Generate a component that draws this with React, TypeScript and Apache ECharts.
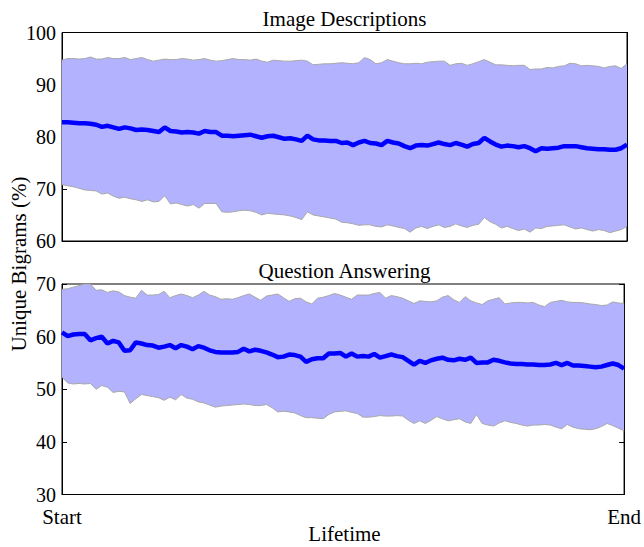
import React, { useEffect, useRef } from "react";
import * as echarts from "echarts";

const titles = ["Image Descriptions", "Question Answering"];
const xEndLabels = ["Start", "End"];
const yTicksTop = [60, 70, 80, 90, 100];
const yTicksBottom = [30, 40, 50, 60, 70];

const imgMean = [
  82.8, 82.8, 82.7, 82.6, 82.6, 82.5, 82.3, 81.9, 82.1, 81.8,
  81.5, 81.8, 81.6, 81.3, 81.4, 81.3, 81.1, 80.9, 81.8, 81.1,
  81.0, 80.8, 80.9, 80.8, 80.6, 81.1, 80.9, 80.9, 80.2, 80.2,
  80.1, 80.2, 80.3, 80.4, 80.1, 79.8, 80.1, 80.2, 79.9, 79.6,
  79.7, 79.5, 79.2, 80.2, 79.5, 79.3, 79.3, 79.2, 79.2, 78.8,
  78.9, 78.4, 78.9, 79.2, 78.8, 78.7, 78.4, 79.2, 78.9, 78.7,
  78.2, 77.8, 78.3, 78.4, 78.3, 78.6, 78.9, 78.6, 78.4, 78.8,
  78.5, 78.1, 78.6, 78.8, 79.8, 79.1, 78.5, 78.1, 78.3, 78.2,
  78.0, 78.2, 77.8, 77.2, 77.8, 77.7, 77.8, 77.9, 78.2, 78.2,
  78.2, 78.0, 77.8, 77.7, 77.6, 77.6, 77.5, 77.5, 77.8, 78.5,
];
const imgUpper = [
  94.7, 95.0, 95.0, 94.9, 95.0, 95.3, 94.9, 94.9, 95.2, 95.0,
  95.0, 95.2, 94.8, 95.0, 95.2, 94.8, 94.5, 94.7, 94.9, 94.8,
  94.8, 95.0, 94.9, 94.7, 94.8, 95.0, 94.7, 94.5, 94.6, 94.8,
  95.0, 94.8, 94.8, 94.7, 94.9, 94.5, 94.3, 94.7, 94.6, 94.5,
  94.5, 94.6, 94.7, 94.5, 93.8, 93.9, 94.0, 94.0, 94.1, 94.2,
  94.1, 94.0, 94.2, 95.2, 94.8, 94.0, 94.2, 94.8, 94.5, 94.2,
  94.0, 94.0, 94.1, 94.0, 94.3, 94.4, 94.5, 94.5, 93.7, 94.0,
  94.1, 93.7, 94.0, 94.4, 94.8, 94.3, 93.8, 93.8, 93.7, 93.6,
  93.7, 93.7, 92.9, 93.0, 93.0, 93.3, 93.2, 93.5, 93.6, 94.1,
  94.0, 93.6, 93.7, 93.6, 93.5, 93.2, 93.5, 93.6, 93.1, 94.0,
];
const imgLower = [
  70.8, 70.6, 70.4, 70.1, 69.8, 69.7, 69.6, 69.0, 69.2, 68.6,
  68.2, 68.4, 68.1, 67.9, 67.6, 67.9, 67.5, 67.6, 68.7, 67.1,
  67.3, 67.0, 66.7, 67.0, 66.3, 67.2, 67.2, 67.2, 65.6, 65.5,
  65.6, 65.8, 65.9, 65.8, 65.5, 65.0, 65.3, 65.2, 65.1, 65.0,
  64.8, 64.5, 64.1, 65.6, 65.0, 64.8, 64.6, 64.4, 64.2, 63.6,
  63.5, 63.3, 63.0, 63.1, 63.1, 62.8, 62.7, 63.1, 62.9, 62.6,
  62.4, 61.7, 62.5, 62.8, 62.4, 62.8, 63.1, 62.6, 62.8, 63.3,
  62.9, 62.6, 63.0, 63.2, 64.5, 63.7, 63.2, 62.5, 62.8, 62.4,
  62.0, 62.3, 61.7, 62.5, 62.4, 62.8, 62.9, 63.0, 63.1, 62.7,
  62.3, 62.5, 62.2, 61.9, 62.2, 62.0, 61.6, 61.9, 62.2, 62.8,
];

const qaMean = [
  60.8, 60.1, 60.4, 60.5, 60.5, 59.3, 59.7, 60.0, 58.7, 59.2,
  58.9, 57.3, 57.4, 58.9, 58.7, 58.4, 58.3, 57.9, 58.1, 58.4,
  57.8, 58.4, 58.1, 57.6, 58.2, 57.9, 57.4, 57.1, 57.0, 57.0,
  57.0, 57.1, 57.7, 57.2, 57.5, 57.3, 57.0, 56.6, 56.1, 56.2,
  56.6, 56.5, 56.2, 55.2, 55.7, 55.9, 55.9, 56.8, 56.8, 56.9,
  56.2, 56.8, 56.2, 56.3, 56.2, 56.7, 56.0, 56.3, 56.6, 56.3,
  56.1, 55.4, 54.7, 55.4, 55.0, 55.5, 55.8, 56.0, 55.6, 55.5,
  55.8, 55.6, 56.0, 55.0, 55.1, 55.1, 55.6, 55.4, 55.1, 54.9,
  54.8, 54.8, 54.7, 54.7, 54.6, 54.6, 54.7, 55.0, 54.6, 55.0,
  54.5, 54.5, 54.4, 54.3, 54.2, 54.3, 54.6, 54.9, 54.6, 53.9,
];
const qaUpper = [
  69.0, 69.1, 69.4, 69.7, 70.0, 70.0, 68.8, 68.9, 68.4, 68.7,
  68.5, 67.8, 67.5, 67.3, 68.8, 67.9, 67.9, 68.0, 68.6, 67.4,
  67.8, 68.1, 67.8, 67.4, 67.9, 68.6, 67.9, 67.6, 67.1, 67.2,
  67.1, 67.4, 67.8, 68.1, 67.5, 66.9, 67.7, 67.9, 68.1, 67.4,
  66.7, 67.2, 67.3, 66.6, 66.2, 67.3, 67.5, 67.8, 68.2, 67.9,
  67.5, 67.1, 67.9, 67.9, 67.9, 68.2, 68.4, 67.3, 67.8, 67.6,
  67.3, 66.8, 66.3, 66.8, 66.7, 66.6, 66.8, 67.5, 67.8, 67.0,
  66.5, 67.6, 66.8, 66.4, 66.1, 66.8, 67.1, 67.4, 66.2, 66.4,
  66.5, 66.5, 66.4, 66.5, 66.0, 65.7, 66.5, 66.7, 66.9, 66.6,
  66.5, 66.5, 66.4, 66.2, 66.1, 65.9, 66.0, 66.6, 66.4, 66.3,
];
const qaLower = [
  52.3, 51.2, 51.0, 51.1, 51.0, 51.1, 50.0, 50.7, 50.4, 49.4,
  49.6, 49.5, 47.3, 48.2, 49.0, 48.8, 48.6, 48.4, 47.9, 48.5,
  48.0, 49.0, 48.3, 48.1, 47.6, 47.4, 47.0, 46.6, 46.8, 46.9,
  47.0, 47.1, 47.2, 47.1, 46.9, 46.9, 47.1, 46.5, 45.7, 45.8,
  45.7, 45.5, 45.0, 44.6, 44.6, 44.5, 44.4, 45.2, 45.7, 45.8,
  45.9, 45.6, 45.4, 44.7, 44.7, 44.8, 45.0, 44.9, 44.9, 45.0,
  44.9, 44.1, 43.5, 44.0, 43.5, 44.1, 44.8, 44.4, 44.0, 44.2,
  44.4, 43.8, 43.5, 45.2, 43.5, 43.2, 43.0, 43.6, 44.0, 43.7,
  43.5, 43.2, 43.0, 43.2, 43.2, 43.3, 43.2, 42.8, 42.5, 43.3,
  42.8, 42.5, 42.4, 42.3, 42.5, 42.9, 43.5, 43.1, 42.6, 42.1,
];

const N = imgMean.length;
const steps = imgMean.map((_, i) => String(i));

const FONT = "Liberation Serif";
const BAND = "#b2b2ff";
const EDGE = "#a8a8a8";
const MEAN = "#0000ff";

function bandSeries(lower: number[], upper: number[], mean: number[], idx: number, stackName: string) {
  return [
    {
      type: "line",
      xAxisIndex: idx,
      yAxisIndex: idx * 2,
      data: lower,
      stack: stackName,
      symbol: "none",
      lineStyle: { color: EDGE, width: 1 },
      z: 2,
    },
    {
      type: "line",
      xAxisIndex: idx,
      yAxisIndex: idx * 2,
      data: upper.map((u, i) => +(u - lower[i]).toFixed(2)),
      stack: stackName,
      symbol: "none",
      lineStyle: { color: EDGE, width: 1 },
      areaStyle: { color: BAND, opacity: 1 },
      z: 2,
    },
    {
      type: "line",
      xAxisIndex: idx,
      yAxisIndex: idx * 2,
      data: mean,
      symbol: "none",
      lineStyle: { color: MEAN, width: 4.5 },
      z: 3,
    },
  ];
}

function yAxes(gridIndex: number, ticks: number[]) {
  const min = ticks[0];
  const max = ticks[ticks.length - 1];
  const interval = ticks[1] - ticks[0];
  const base = {
    type: "value",
    gridIndex,
    min,
    max,
    interval,
    splitLine: { show: false },
    axisLine: { show: true, lineStyle: { color: "#000", width: 1 } },
    axisTick: { show: true, inside: true, length: 5, lineStyle: { color: "#000" } },
  };
  return [
    {
      ...base,
      position: "left",
      axisLabel: { show: true, color: "#000", fontFamily: FONT, fontSize: 20, margin: 6 },
    },
    {
      ...base,
      position: "right",
      axisLabel: { show: false },
    },
  ];
}

function xAxis(gridIndex: number, showLabels: boolean) {
  return {
    type: "category",
    gridIndex,
    data: steps,
    boundaryGap: false,
    axisLine: { show: true, lineStyle: { color: "#000", width: 1 } },
    axisTick: { show: false },
    splitLine: { show: false },
    axisLabel: {
      show: showLabels,
      interval: 0,
      color: "#000",
      fontFamily: FONT,
      fontSize: 21,
      margin: 12,
      formatter: (_v: string, i: number) => (i === 0 ? xEndLabels[0] : i === N - 1 ? xEndLabels[1] : ""),
    },
  };
}

function label(text: string, x: number, y: number, rotation = 0) {
  return {
    type: "text",
    x,
    y,
    rotation,
    style: {
      text,
      fontFamily: FONT,
      fontSize: 21,
      fill: "#000",
      textAlign: "center",
      textVerticalAlign: "middle",
    },
  };
}

export default function App() {
  const ref = useRef<HTMLDivElement>(null);
  useEffect(() => {
    if (!ref.current) return;
    const chart = echarts.init(ref.current, undefined, { renderer: "svg" });
    chart.setOption({
      animation: false,
      backgroundColor: "#fff",
      grid: [
        { left: 62, right: 17, top: 32.5, height: 208.5, show: true, borderColor: "#000", borderWidth: 1, backgroundColor: "transparent" },
        { left: 62, right: 17, top: 284, height: 210.5, show: true, borderColor: "#000", borderWidth: 1, backgroundColor: "transparent" },
      ],
      xAxis: [xAxis(0, false), xAxis(1, true)],
      yAxis: [...yAxes(0, yTicksTop), ...yAxes(1, yTicksBottom)],
      series: [
        ...bandSeries(imgLower, imgUpper, imgMean, 0, "img"),
        ...bandSeries(qaLower, qaUpper, qaMean, 1, "qa"),
      ],
      graphic: [
        label(titles[0], 344.5, 19),
        label(titles[1], 344.5, 271),
        label("Lifetime", 344.5, 534),
        label("Unique Bigrams (%)", 19, 264, Math.PI / 2),
      ],
    });
    return () => chart.dispose();
  }, []);
  return <div ref={ref} style={{ position: "fixed", left: 0, top: 0, width: 644, height: 547 }} />;
}
